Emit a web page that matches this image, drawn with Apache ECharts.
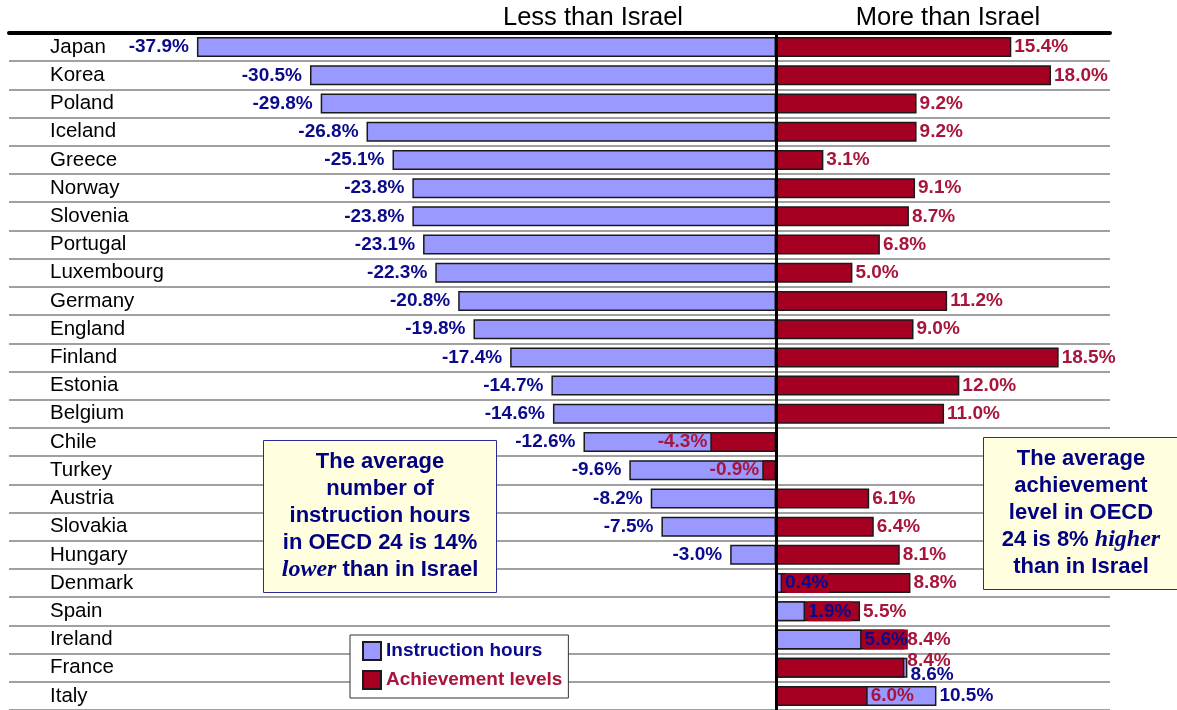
<!DOCTYPE html>
<html>
<head>
<meta charset="utf-8">
<script src="https://cdn.jsdelivr.net/npm/echarts@6/dist/echarts.min.js"></script>
<style>
  html, body { margin: 0; padding: 0; background: #fff; }
  #main { width: 1177px; height: 710px; }
</style>
</head>
<body>
<div id="main"></div>
<script>
// categories, top to bottom
var countries = ['Japan', 'Korea', 'Poland', 'Iceland', 'Greece', 'Norway', 'Slovenia', 'Portugal',
  'Luxembourg', 'Germany', 'England', 'Finland', 'Estonia', 'Belgium', 'Chile', 'Turkey',
  'Austria', 'Slovakia', 'Hungary', 'Denmark', 'Spain', 'Ireland', 'France', 'Italy'];

// % difference from Israel
var instructionHours = [-37.9, -30.5, -29.8, -26.8, -25.1, -23.8, -23.8, -23.1, -22.3, -20.8, -19.8, -17.4,
  -14.7, -14.6, -12.6, -9.6, -8.2, -7.5, -3.0, 0.4, 1.9, 5.6, 8.6, 10.5];
var achievementLevels = [15.4, 18.0, 9.2, 9.2, 3.1, 9.1, 8.7, 6.8, 5.0, 11.2, 9.0, 18.5,
  12.0, 11.0, -4.3, -0.9, 6.1, 6.4, 8.1, 8.8, 5.5, 8.4, 8.4, 6.0];

var FONT = 'Arial, "Liberation Sans", sans-serif';
var BLUE_TXT = '#0a0a8c';
var RED_TXT = '#a8153a';

var myChart = echarts.init(document.getElementById('main'));

// the shorter bar of a row is the one in front
function inFront(i) {
  var a = instructionHours[i], b = achievementLevels[i];
  return a * b > 0 && Math.abs(a) < Math.abs(b);
}
// labels that would sit on top of each other
function crowded(i) {
  var a = instructionHours[i], b = achievementLevels[i];
  return a * b > 0 && Math.abs(a - b) < 1;
}

var blueBack = [], blueFront = [], redData = [];
instructionHours.forEach(function (v, i) {
  var item = {
    value: v,
    label: {
      position: v < 0 ? 'left' : 'right',
      distance: v < 0 ? 8 : 3,
      offset: crowded(i) ? [0, 7] : [0, 0]
    }
  };
  if (inFront(i)) {
    blueBack.push('-');
    blueFront.push(item);
  } else {
    blueBack.push(item);
    blueFront.push('-');
  }
});
achievementLevels.forEach(function (v, i) {
  redData.push({
    value: v,
    label: { position: v < 0 ? 'left' : 'right', offset: crowded(i) ? [0, -7] : [0, 0] }
  });
});

function fmt(p) { return p.value.toFixed(1) + '%'; }

var blueStyle = { color: '#9999ff', borderColor: '#1a1a1a', borderWidth: 1.5 };
var redStyle = { color: '#a50021', borderColor: '#1a1a1a', borderWidth: 1.5 };
var labelBase = { show: true, fontFamily: FONT, fontSize: 19, fontWeight: 'bold', distance: 3, formatter: fmt };

var option = {
  animation: false,
  grid: { left: 9, right: 67, top: 33, height: 678 },
  xAxis: {
    type: 'value',
    position: 'top',
    min: -50.2,
    max: 21.86,
    axisLine: { show: true, onZero: false, lineStyle: { color: '#000', width: 4 } },
    axisTick: { show: false },
    axisLabel: { show: false },
    splitLine: { show: false }
  },
  yAxis: {
    type: 'category',
    inverse: true,
    data: countries,
    axisLine: { show: false },
    axisTick: { show: false },
    axisLabel: { inside: true, margin: 41, padding: [4, 0, 0, 0], color: '#000', fontFamily: FONT, fontSize: 20.5 },
    splitLine: { show: true, interval: 0, lineStyle: { color: '#a0a0a0', width: 2 } }
  },
  legend: {
    orient: 'vertical',
    left: 350,
    top: 635,
    data: [
      { name: 'Instruction hours', textStyle: { color: BLUE_TXT } },
      { name: 'Achievement levels', textStyle: { color: RED_TXT } }
    ],
    icon: 'rect',
    itemWidth: 18,
    itemHeight: 18,
    itemGap: 9,
    padding: [6, 6, 8, 12],
    backgroundColor: '#fff',
    borderColor: '#333',
    borderWidth: 1,
    textStyle: { fontFamily: FONT, fontSize: 19, fontWeight: 'bold' }
  },
  series: [
    {
      name: 'Instruction hours',
      type: 'bar',
      barWidth: 20,
      barGap: '-100%',
      z: 2,
      itemStyle: blueStyle,
      label: Object.assign({}, labelBase, { color: BLUE_TXT }),
      data: blueBack,
      markLine: {
        silent: true,
        symbol: 'none',
        label: { show: false },
        lineStyle: { color: '#000', width: 3, type: 'solid' },
        data: [{ xAxis: 0 }]
      }
    },
    {
      name: 'Achievement levels',
      type: 'bar',
      barWidth: 20,
      barGap: '-100%',
      z: 3,
      itemStyle: redStyle,
      label: Object.assign({}, labelBase, { color: RED_TXT }),
      data: redData
    },
    {
      name: 'Instruction hours (front)',
      type: 'bar',
      barWidth: 20,
      barGap: '-100%',
      z: 4,
      itemStyle: blueStyle,
      label: Object.assign({}, labelBase, { color: BLUE_TXT, backgroundColor: '#a50021', padding: [1, 0, 0, 0] }),
      data: blueFront
    }
  ],
  graphic: [
    {
      type: 'text',
      style: { text: 'Less than Israel', x: 593, y: 18, align: 'center', verticalAlign: 'middle',
        font: '25.5px ' + FONT, fill: '#000' }
    },
    {
      type: 'text',
      style: { text: 'More than Israel', x: 948, y: 18, align: 'center', verticalAlign: 'middle',
        font: '25.5px ' + FONT, fill: '#000' }
    },
    {
      type: 'rect', z: 10,
      shape: { x: 263.5, y: 440.5, width: 233, height: 152 },
      style: { fill: '#ffffe0', stroke: '#2a2a9a', lineWidth: 1 }
    },
    {
      type: 'text', z: 11,
      style: {
        text: 'The average\nnumber of\ninstruction hours\nin OECD 24 is 14%\n{i|lower} than in Israel',
        x: 380, y: 516, align: 'center', verticalAlign: 'middle',
        fontFamily: FONT, fontSize: 22, fontWeight: 'bold', fill: '#000080', lineHeight: 27,
        rich: { i: { fontFamily: '"Liberation Serif", "Times New Roman", serif', fontStyle: 'italic',
          fontWeight: 'bold', fontSize: 24, fill: '#000080', lineHeight: 27 } }
      }
    },
    {
      type: 'rect', z: 10,
      shape: { x: 983.5, y: 437.5, width: 200, height: 152 },
      style: { fill: '#ffffe0', stroke: '#2a2a9a', lineWidth: 1 }
    },
    {
      type: 'text', z: 11,
      style: {
        text: 'The average\nachievement\nlevel in OECD\n24 is 8% {i|higher}\nthan in Israel',
        x: 1081, y: 513, align: 'center', verticalAlign: 'middle',
        fontFamily: FONT, fontSize: 22, fontWeight: 'bold', fill: '#000080', lineHeight: 27,
        rich: { i: { fontFamily: '"Liberation Serif", "Times New Roman", serif', fontStyle: 'italic',
          fontWeight: 'bold', fontSize: 24, fill: '#000080', lineHeight: 27 } }
      }
    }
  ]
};

myChart.setOption(option);
</script>
</body>
</html>
